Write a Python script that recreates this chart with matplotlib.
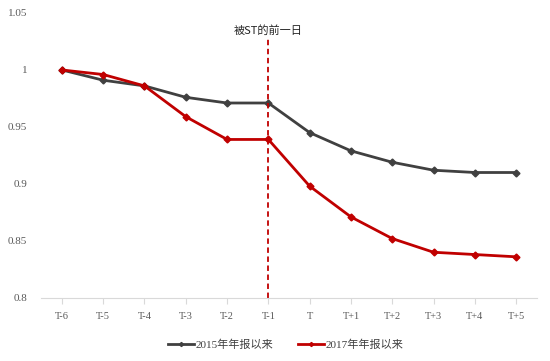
import matplotlib
matplotlib.use('Agg')
import matplotlib.pyplot as plt

plt.rcParams['font.family'] = ['Noto Sans CJK SC', 'DejaVu Sans']

categories = ['T-6', 'T-5', 'T-4', 'T-3', 'T-2', 'T-1', 'T', 'T+1', 'T+2', 'T+3', 'T+4', 'T+5']
series_2015 = [1.0, 0.991, 0.986, 0.976, 0.971, 0.971, 0.945, 0.929, 0.919, 0.912, 0.910, 0.910]
series_2017 = [1.0, 0.996, 0.986, 0.959, 0.939, 0.939, 0.898, 0.871, 0.852, 0.840, 0.838, 0.836]
y_ticks = [0.8, 0.85, 0.9, 0.95, 1.0, 1.05]
y_labels = ['0.8', '0.85', '0.9', '0.95', '1', '1.05']

fig = plt.figure(figsize=(5.5, 3.61), dpi=100)
ax = fig.add_axes([0.075, 0.175, 0.901, 0.789])

x = range(len(categories))
ax.plot(x, series_2015, color='#404040', lw=2, marker='D', ms=3.5, label='2015年年报以来')
ax.plot(x, series_2017, color='#C00000', lw=2, marker='D', ms=3.5, label='2017年年报以来')

ax.axvline(5, ymin=0, ymax=(1.027 - 0.8) / 0.25, color='#C00000', ls=(0, (3, 2)), lw=1.3)
ax.text(5, 1.03, '被ST的前一日', ha='center', va='bottom', fontsize=8, color='#222222')

ax.set_xlim(-0.5, len(categories) - 0.5)
ax.set_ylim(0.8, 1.05)
ax.set_xticks(list(x))
ax.set_xticklabels(categories, family=['Liberation Serif', 'DejaVu Serif'])
ax.set_yticks(y_ticks)
ax.set_yticklabels(y_labels, family=['Liberation Serif', 'DejaVu Serif'])
ax.tick_params(axis='y', length=0, labelsize=8, colors='#595959', pad=10)
ax.tick_params(axis='x', length=4, labelsize=7.5, colors='#d9d9d9', labelcolor='#595959', pad=6)

for side in ['left', 'right', 'top']:
    ax.spines[side].set_visible(False)
ax.spines['bottom'].set_color('#d9d9d9')

ax.legend(loc='upper center', bbox_to_anchor=(0.493, -0.11), ncol=2, frameon=False,
          prop={'family': ['Liberation Serif', 'Noto Sans CJK SC'], 'size': 8},
          handlelength=2.4, columnspacing=2.2, labelcolor='#404040',
          markerscale=0.6, handletextpad=0.1)

fig.savefig('out.png', dpi=100)
